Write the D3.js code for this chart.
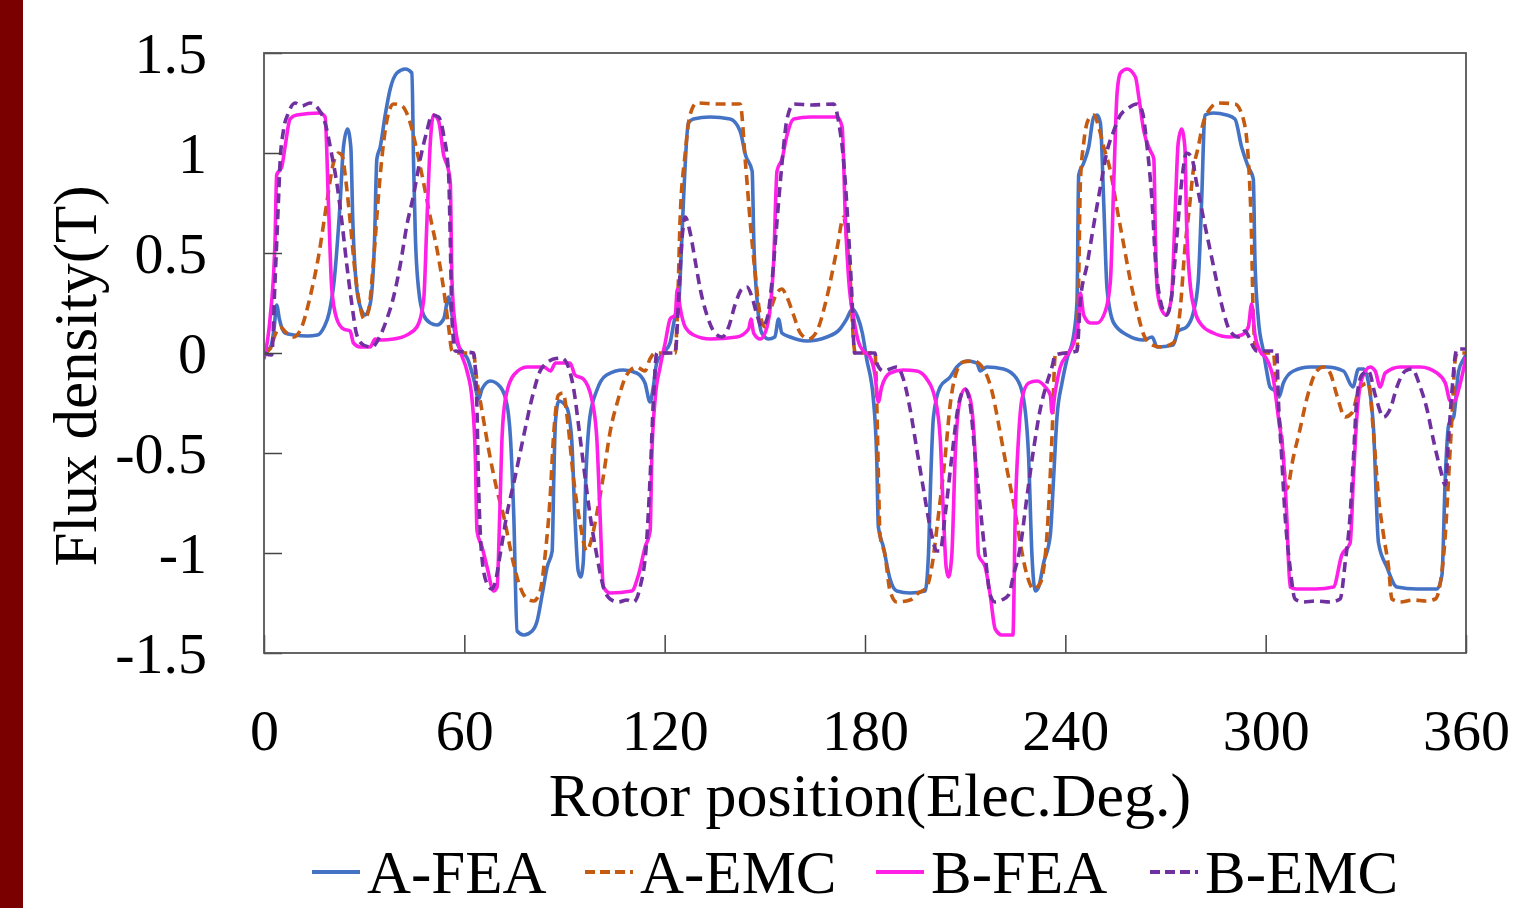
<!DOCTYPE html>
<html>
  <head>
    <meta charset="utf-8">
    <title>flux density</title>
    <script src="https://d3js.org/d3.v7.min.js"></script>
  </head>
  <style>
    body { margin: 0; background: #fff; }
    text { font-family: "Times New Roman", "Liberation Serif", serif; fill: #000; }
  </style>
  <body>
    <script>
      const width = 1519;
      const height = 908;
      const plot = {left: 264, right: 1466, top: 53, bottom: 653};

      const xTicks = [0, 60, 120, 180, 240, 300, 360];
      const yTicks = [1.5, 1, 0.5, 0, -0.5, -1, -1.5];
      const yTickLabels = ["1.5", "1", "0.5", "0", "-0.5", "-1", "-1.5"];
      const seriesNames = ["A-FEA", "A-EMC", "B-FEA", "B-EMC"];

      // [rotor position (deg), flux density (T)]
      const aFea = [[0,0],[2,0.03],[3,0.12],[3.8,0.24],[4.6,0.17],[6.3,0.1],[9,0.09],[13,0.085],[16,0.09],[18,0.13],[19.5,0.2],[21,0.36],[22.8,0.75],[23.8,1.03],[25,1.12],[26,1.03],[26.6,0.66],[27.8,0.32],[29.3,0.21],[30.3,0.19],[31.8,0.245],[33.1,0.56],[33.8,0.97],[34.8,1.03],[36.3,1.19],[37.8,1.32],[39.8,1.4],[42.3,1.42],[44.3,1.4],[44.8,0.95],[45.3,0.6],[46.3,0.32],[47.8,0.19],[49.8,0.15],[51.8,0.14],[53.8,0.17],[55.3,0.28],[56.3,0.19],[57.8,0.05],[59.8,0],[61,-0.03],[62.8,-0.13],[64.3,-0.23],[65.3,-0.18],[67.8,-0.14],[70.8,-0.17],[72.8,-0.26],[73.8,-0.42],[74.8,-0.81],[75.8,-1.39],[77.8,-1.41],[80.3,-1.39],[81.8,-1.34],[83.3,-1.21],[84.8,-1.07],[86.3,-0.99],[86.8,-0.62],[87.3,-0.34],[88.3,-0.24],[90.6,-0.27],[92.1,-0.42],[93.1,-0.81],[94.1,-1.09],[94.85,-1.12],[95.6,-1.05],[96.4,-0.62],[97.6,-0.32],[99.6,-0.19],[102.6,-0.11],[107.6,-0.085],[111.6,-0.1],[114.1,-0.15],[115.6,-0.245],[116.6,-0.17],[117.6,-0.05],[119.6,0],[121.6,0.05],[123,0.17],[124,0.2],[124.6,0.36],[125.6,0.75],[127.1,1.15],[128.6,1.17],[133.6,1.18],[139.6,1.17],[142.6,1.11],[144.2,0.99],[146.2,0.91],[146.7,0.56],[147.7,0.26],[149.1,0.1],[151.1,0.07],[153,0.08],[154.1,0.17],[155.1,0.1],[157.6,0.08],[162.6,0.06],[168.6,0.08],[172.5,0.12],[174.5,0.17],[176.2,0.22],[177.8,0.18],[179.2,0.1],[180.5,-0.03],[182.5,-0.23],[183.5,-0.52],[184,-0.87],[185.5,-0.97],[187.5,-1.13],[189.5,-1.19],[193.5,-1.2],[198,-1.19],[199,-1.01],[199.7,-0.62],[200.5,-0.32],[202.5,-0.17],[205.5,-0.12],[207.5,-0.07],[210.5,-0.04],[213.5,-0.05],[214.5,-0.09],[216.5,-0.07],[221.5,-0.08],[225.5,-0.13],[227.5,-0.23],[229,-0.52],[230,-1.01],[231,-1.19],[232,-1.17],[233.5,-1.05],[235.5,-0.91],[236.5,-0.62],[237.5,-0.32],[239,-0.15],[240.5,-0.03],[242.5,0.09],[243.5,0.26],[244,0.89],[245.5,0.95],[247,1.03],[248.5,1.18],[249.5,1.19],[250.5,1.15],[251.5,0.75],[252.5,0.32],[254.5,0.15],[258.5,0.09],[263.5,0.065],[266,0.08],[267.5,0.03],[272.3,0.04],[273.8,0.11],[276.3,0.13],[278.3,0.2],[279.8,0.36],[280.8,0.75],[281.8,1.19],[284.3,1.2],[288.3,1.19],[290.8,1.17],[292.8,1.03],[294.8,0.93],[296.3,0.87],[296.8,0.46],[297.8,0.17],[299.3,0.01],[300.3,-0.09],[301.3,-0.17],[302.8,-0.19],[304,-0.22],[305.3,-0.15],[308.3,-0.09],[313.3,-0.07],[318.3,-0.07],[323.3,-0.09],[326.1,-0.17],[327.8,-0.08],[329.3,-0.08],[330.8,-0.15],[332.3,-0.38],[333.8,-0.95],[336.3,-1.07],[339.3,-1.17],[345.3,-1.18],[351.3,-1.18],[352.8,-1.11],[353.8,-0.62],[354.8,-0.36],[356.3,-0.32],[357.8,-0.09],[359.3,-0.03],[360,-0.01]];

      const aEmc = [[0,0],[1.8,0.02],[3.3,0.09],[4.8,0.13],[6.8,0.1],[8.8,0.08],[11.3,0.13],[13.8,0.28],[16.3,0.48],[18.8,0.75],[20.8,0.95],[22.3,1.0],[23.3,0.99],[24.6,0.85],[25.8,0.66],[27.3,0.4],[28.8,0.23],[30,0.17],[31.3,0.21],[32.8,0.46],[34.3,0.79],[35.8,1.05],[37.3,1.2],[38.8,1.245],[41.3,1.235],[43.8,1.15],[45.8,1.01],[47.8,0.85],[49.8,0.68],[51.8,0.52],[53.8,0.32],[55.3,0.13],[56.3,0.01],[58,0],[62.7,0],[63.7,-0.13],[65.2,-0.28],[67.7,-0.52],[69.7,-0.68],[71.7,-0.81],[74.7,-1.05],[76.7,-1.17],[78.8,-1.23],[80.8,-1.24],[82.7,-1.19],[84.2,-1.01],[85.7,-0.72],[86.7,-0.42],[88.2,-0.21],[89.6,-0.2],[91,-0.35],[92.65,-0.62],[94.65,-0.85],[96.65,-0.99],[98.1,-0.93],[99.6,-0.81],[101.6,-0.62],[103.6,-0.4],[106.1,-0.23],[108.6,-0.11],[111.6,-0.07],[114.1,-0.09],[115.6,-0.03],[117.1,0],[123.1,0],[124,0.3],[124.6,0.66],[126.1,0.99],[127.6,1.19],[129.6,1.25],[136,1.245],[142.6,1.245],[144.2,0.95],[145.6,0.66],[147.1,0.4],[148.6,0.19],[150.1,0.13],[151.6,0.21],[153.6,0.3],[155.1,0.32],[156.6,0.28],[158.6,0.19],[160.6,0.1],[163.1,0.07],[165.6,0.11],[168.6,0.28],[171.6,0.52],[173.6,0.68],[174.6,0.56],[175.6,0.36],[176.6,0.05],[177.1,0],[183,0],[183.5,-0.23],[184,-0.6],[184.5,-0.91],[186,-1.01],[187.5,-1.19],[189.5,-1.245],[193.5,-1.235],[196,-1.2],[198.5,-1.17],[200,-1.07],[202,-0.81],[204,-0.52],[205.5,-0.26],[207.5,-0.09],[209.5,-0.045],[212.5,-0.04],[215.5,-0.08],[218,-0.19],[220.5,-0.4],[222.5,-0.58],[224.5,-0.75],[226.5,-0.95],[228.5,-1.11],[230.5,-1.18],[232.5,-1.15],[234.5,-0.91],[236,-0.42],[237,-0.01],[243.5,0.01],[244,0.36],[244.5,0.85],[245.5,1.05],[247,1.17],[248.5,1.19],[250,1.13],[251.5,1.03],[253.5,0.91],[255.5,0.72],[257.5,0.54],[259.5,0.36],[261.5,0.21],[263.5,0.09],[265.5,0.045],[268.5,0.03],[272.3,0.05],[274.3,0.2],[275.8,0.52],[277.3,0.75],[278.3,0.91],[279.8,1.03],[281.3,1.15],[283.3,1.22],[285.8,1.25],[290.8,1.245],[293.3,1.17],[294.8,0.97],[295.8,0.56],[296.3,0.17],[297.3,0],[302.3,0],[303.3,-0.23],[304.8,-0.42],[306.3,-0.68],[308.3,-0.52],[310.3,-0.38],[312.3,-0.23],[315.3,-0.09],[317.3,-0.07],[319.3,-0.1],[321.3,-0.21],[323.8,-0.32],[325.8,-0.3],[328.3,-0.17],[330.8,-0.15],[332.3,-0.4],[333.8,-0.72],[335.3,-0.91],[336.8,-1.07],[337.8,-1.23],[340.3,-1.245],[344.3,-1.235],[348,-1.24],[350.8,-1.23],[352.3,-1.15],[353.8,-0.91],[354.8,-0.62],[355.8,-0.32],[356.8,-0.03],[357.5,0],[360,0]];

      const bFea = [[0,-0.03],[1.8,0.17],[3.3,0.56],[3.8,0.89],[5.3,0.93],[6.3,1.03],[7.8,1.17],[9.8,1.19],[16.8,1.2],[18.3,1.18],[19.3,0.75],[20.3,0.32],[21.8,0.17],[23.8,0.12],[25.8,0.11],[26.8,0.05],[28.8,0.03],[31.8,0.03],[33.3,0.07],[35,0.065],[38.8,0.07],[42.8,0.09],[45.8,0.13],[47.8,0.26],[48.8,0.66],[49.8,1.05],[50.8,1.19],[52.3,1.16],[53.8,0.99],[55.3,0.91],[55.8,0.85],[56.3,0.36],[57.3,0.13],[58.8,0.01],[60.8,-0.09],[62.3,-0.23],[63.3,-0.52],[63.8,-0.89],[65.3,-0.97],[66.8,-1.07],[68.8,-1.19],[69.8,-1.17],[70.6,-0.81],[71.3,-0.42],[72.3,-0.23],[74.8,-0.11],[78.8,-0.07],[83.8,-0.07],[85.8,-0.09],[87.3,-0.05],[91.65,-0.05],[93.15,-0.11],[95.65,-0.13],[98.15,-0.23],[99.65,-0.42],[100.65,-0.81],[101.65,-1.17],[103.65,-1.2],[110.15,-1.19],[112.15,-1.11],[114.15,-0.97],[115.65,-0.89],[116.15,-0.52],[117.15,-0.23],[118.65,-0.07],[120.15,0.05],[121.65,0.17],[123.15,0.19],[123.8,0.32],[124.6,0.23],[126.15,0.13],[128.65,0.09],[133.65,0.07],[141.65,0.08],[145.15,0.12],[145.85,0.17],[146.65,0.1],[148.65,0.07],[150.65,0.13],[152.65,0.46],[153.65,0.91],[155.15,0.97],[156.65,1.09],[158.65,1.17],[163.65,1.18],[171.65,1.18],[173.15,1.13],[174.15,0.66],[175.15,0.36],[176.65,0.17],[178.15,0.05],[179.5,0.01],[181.5,-0.02],[183,-0.11],[184,-0.245],[185,-0.17],[187.5,-0.1],[191.5,-0.085],[195.5,-0.09],[198.5,-0.13],[201,-0.23],[202.5,-0.42],[203.5,-0.81],[204.3,-1.07],[205,-1.12],[206,-1.01],[207,-0.52],[208.5,-0.23],[210,-0.18],[211.5,-0.23],[213,-0.52],[214,-1.01],[216,-1.07],[217.5,-1.21],[219,-1.38],[221,-1.41],[224.3,-1.41],[225,-0.81],[226,-0.42],[227,-0.23],[229,-0.15],[231.5,-0.14],[234,-0.17],[235.5,-0.21],[236,-0.3],[237,-0.19],[238.5,-0.07],[240.5,-0.01],[242.5,0.05],[244,0.17],[244.5,0.3],[245.5,0.19],[247.5,0.15],[249.5,0.15],[252,0.21],[253.5,0.36],[254.5,0.85],[255.5,1.3],[256.5,1.4],[258.5,1.42],[261,1.38],[262,1.28],[263.5,1.11],[265.5,1.01],[266.5,0.97],[267,0.56],[267.5,0.32],[269,0.21],[270.3,0.19],[271.8,0.28],[272.8,0.66],[273.8,1.05],[274.8,1.12],[275.8,1.03],[276.3,0.66],[277.3,0.36],[278.8,0.21],[280.8,0.14],[284.3,0.1],[289.3,0.08],[292.8,0.09],[294.8,0.13],[295.8,0.245],[296.8,0.09],[298.3,0.01],[300.3,-0.03],[302.3,-0.13],[303.8,-0.32],[305.3,-0.52],[306.3,-0.81],[307.3,-1.17],[309.3,-1.18],[315,-1.18],[320.3,-1.17],[322.8,-1.01],[325.3,-0.95],[326.3,-0.62],[327.3,-0.32],[328.8,-0.13],[331.3,-0.07],[332.8,-0.09],[334.3,-0.17],[335.8,-0.1],[340.3,-0.07],[346.3,-0.07],[351.3,-0.1],[353.8,-0.15],[355.3,-0.24],[356.5,-0.24],[358,-0.17],[360,-0.02]];

      const bEmc = [[0,0],[2.3,-0.01],[3.3,0.36],[4.3,0.75],[4.8,0.95],[5.8,1.11],[7.3,1.2],[9.3,1.25],[11.3,1.235],[13.8,1.25],[16.3,1.22],[18.3,1.15],[20.3,0.99],[21.8,0.85],[23.3,0.66],[24.8,0.44],[26.3,0.245],[27.8,0.09],[29.8,0.04],[32.3,0.03],[34.3,0.07],[36.8,0.17],[38.8,0.28],[40.8,0.44],[42.8,0.64],[44.8,0.79],[46.8,0.97],[48.8,1.11],[50.3,1.19],[52.3,1.18],[53.8,1.09],[55.3,0.89],[55.8,0.56],[56.3,0.17],[57.3,0.01],[62.7,0],[63.7,-0.23],[64.2,-0.62],[65.2,-1.01],[66.7,-1.15],[68.2,-1.18],[69.2,-1.15],[70.7,-1.01],[72.7,-0.81],[75.2,-0.62],[77.7,-0.42],[80.2,-0.23],[82.7,-0.09],[84.7,-0.05],[86.7,-0.03],[89.2,-0.025],[90.65,-0.05],[92.65,-0.17],[94.65,-0.42],[96.15,-0.62],[97.65,-0.81],[99.65,-1.01],[101.65,-1.17],[103.65,-1.23],[106.15,-1.245],[108.65,-1.235],[110.65,-1.245],[112.65,-1.17],[114.65,-0.93],[115.65,-0.62],[116.65,-0.23],[117.65,0],[123.15,0],[124.15,0.26],[125.15,0.56],[126.15,0.68],[127.65,0.6],[129.15,0.46],[130.65,0.32],[132.65,0.19],[134.65,0.11],[137.15,0.08],[139.15,0.13],[141.15,0.245],[143.15,0.32],[144.65,0.33],[146.15,0.28],[147.65,0.19],[149.15,0.13],[150.65,0.17],[152.15,0.36],[153.65,0.66],[155.15,0.95],[156.65,1.17],[158.65,1.245],[164,1.24],[170.65,1.245],[172.15,1.15],[173.65,0.95],[174.85,0.66],[176.15,0.26],[176.85,0],[183,0],[183.5,-0.05],[185.5,-0.09],[187.5,-0.08],[189.5,-0.07],[191.5,-0.13],[193.5,-0.28],[195.5,-0.48],[197.5,-0.68],[199.5,-0.87],[201.5,-0.99],[202.5,-0.99],[204,-0.81],[206,-0.52],[208,-0.26],[210,-0.18],[211.5,-0.26],[213,-0.52],[214.5,-0.77],[216,-1.01],[217.5,-1.21],[219,-1.245],[221,-1.235],[223,-1.21],[224.5,-1.11],[226.5,-0.97],[228.5,-0.72],[230.5,-0.48],[232.5,-0.28],[234.5,-0.15],[236,-0.07],[237,-0.01],[243.5,0.01],[244.5,0.26],[246.5,0.44],[248.5,0.64],[250.5,0.83],[252.5,1.01],[254.5,1.11],[256.5,1.19],[258.5,1.22],[261.5,1.245],[263,1.21],[264.5,1.03],[266,0.75],[267,0.46],[268.5,0.26],[270.3,0.19],[271.8,0.28],[273.3,0.56],[274.8,0.85],[276.3,1.0],[277.8,0.98],[279.3,0.85],[281.3,0.68],[283.3,0.52],[285.3,0.36],[287.3,0.21],[289.3,0.11],[291.8,0.08],[293.8,0.11],[295,0.08],[296.3,0.03],[297.3,0.01],[303.3,0.01],[303.8,-0.23],[304.8,-0.52],[305.8,-0.81],[307.3,-1.07],[308.8,-1.23],[311.3,-1.245],[315,-1.24],[319.3,-1.245],[322.3,-1.23],[323.8,-1.05],[325.3,-0.81],[326.3,-0.52],[327.3,-0.23],[328.8,-0.11],[330.8,-0.09],[332.8,-0.21],[335.3,-0.32],[337.3,-0.28],[339.3,-0.17],[341.8,-0.09],[343.8,-0.08],[346.3,-0.17],[348.3,-0.28],[350.3,-0.44],[352.3,-0.58],[353.8,-0.66],[354.8,-0.42],[355.8,-0.19],[356.8,-0.01],[357.3,0.02],[360,0.02]];

      const series = [
        {name: seriesNames[0], values: aFea, color: "#4472C4", dash: null},
        {name: seriesNames[1], values: aEmc, color: "#C55A11", dash: "10,6"},
        {name: seriesNames[2], values: bFea, color: "#FF1FE6", dash: null},
        {name: seriesNames[3], values: bEmc, color: "#7030A0", dash: "10,6"}
      ];

      const xScale = d3.scaleLinear().domain([0, 360]).range([plot.left, plot.right]);
      const yScale = d3.scaleLinear().domain([-1.5, 1.5]).range([plot.bottom, plot.top]);

      const svg = d3.select("body")
        .append("svg")
          .attr("width", width)
          .attr("height", height);

      // dark red strip on the left edge
      svg.append("rect")
        .attr("x", 0).attr("y", 0)
        .attr("width", 23).attr("height", height)
        .attr("fill", "#7A0000");

      const line = d3.line()
        .x(function(d) { return xScale(d[0]); })
        .y(function(d) { return yScale(d[1]); })
        .curve(d3.curveMonotoneX);

      svg.append("defs").append("clipPath").attr("id", "clip")
        .append("rect")
          .attr("x", plot.left).attr("y", plot.top - 5)
          .attr("width", plot.right - plot.left).attr("height", plot.bottom - plot.top + 10);

      svg.append("g")
          .attr("clip-path", "url(#clip)")
        .selectAll("path")
        .data(series)
        .enter()
        .append("path")
          .attr("d", function(d) { return line(d.values); })
          .attr("fill", "none")
          .attr("stroke", function(d) { return d.color; })
          .attr("stroke-width", 3.6)
          .attr("stroke-linejoin", "round")
          .attr("stroke-dasharray", function(d) { return d.dash; });

      // axes
      const xAxis = d3.axisBottom(xScale).tickValues(xTicks).tickSize(-18).tickFormat(d3.format("d"));
      const gx = svg.append("g")
          .attr("transform", "translate(0," + plot.bottom + ")")
          .call(xAxis);
      gx.select(".domain").remove();
      gx.selectAll("line").attr("stroke", "#444").attr("stroke-width", 1.5);
      gx.selectAll("text")
          .attr("y", 97).attr("dy", 0)
          .style("font-size", "58px")
          .style("font-family", "'Times New Roman', 'Liberation Serif', serif")
          .attr("fill", "#000");

      const yAxis = d3.axisLeft(yScale).tickValues(yTicks).tickSize(-18)
        .tickFormat(function(d, i) { return yTickLabels[i]; });
      const gy = svg.append("g")
          .attr("transform", "translate(" + plot.left + ",0)")
          .call(yAxis);
      gy.select(".domain").remove();
      gy.selectAll("line").attr("stroke", "#444").attr("stroke-width", 1.5);
      gy.selectAll("text")
          .attr("x", -57).attr("dy", "0.34em")
          .style("font-size", "58px")
          .style("font-family", "'Times New Roman', 'Liberation Serif', serif")
          .attr("fill", "#000");

      // frame
      svg.append("rect")
        .attr("x", plot.left).attr("y", plot.top)
        .attr("width", plot.right - plot.left).attr("height", plot.bottom - plot.top)
        .attr("fill", "none")
        .attr("stroke", "#555")
        .attr("stroke-width", 1.8);

      // axis titles
      svg.append("text")
        .attr("x", 870).attr("y", 816)
        .attr("text-anchor", "middle")
        .style("font-size", "62px")
        .text("Rotor position(Elec.Deg.)");

      svg.append("text")
        .attr("transform", "translate(96,376) rotate(-90)")
        .attr("text-anchor", "middle")
        .style("font-size", "61px")
        .text("Flux density(T)");

      // legend
      const legendX = [312, 585, 876, 1150];
      const legend = svg.append("g").selectAll("g")
        .data(series)
        .enter()
        .append("g")
          .attr("transform", function(d, i) { return "translate(" + legendX[i] + ",0)"; });

      legend.append("line")
        .attr("x1", 0).attr("x2", 48)
        .attr("y1", 872).attr("y2", 872)
        .attr("stroke", function(d) { return d.color; })
        .attr("stroke-width", 4)
        .attr("stroke-dasharray", function(d) { return d.dash ? "10,5" : null; });

      legend.append("text")
        .attr("x", 55).attr("y", 893)
        .style("font-size", "61px")
        .text(function(d) { return d.name; });
    </script>
  </body>
</html>
